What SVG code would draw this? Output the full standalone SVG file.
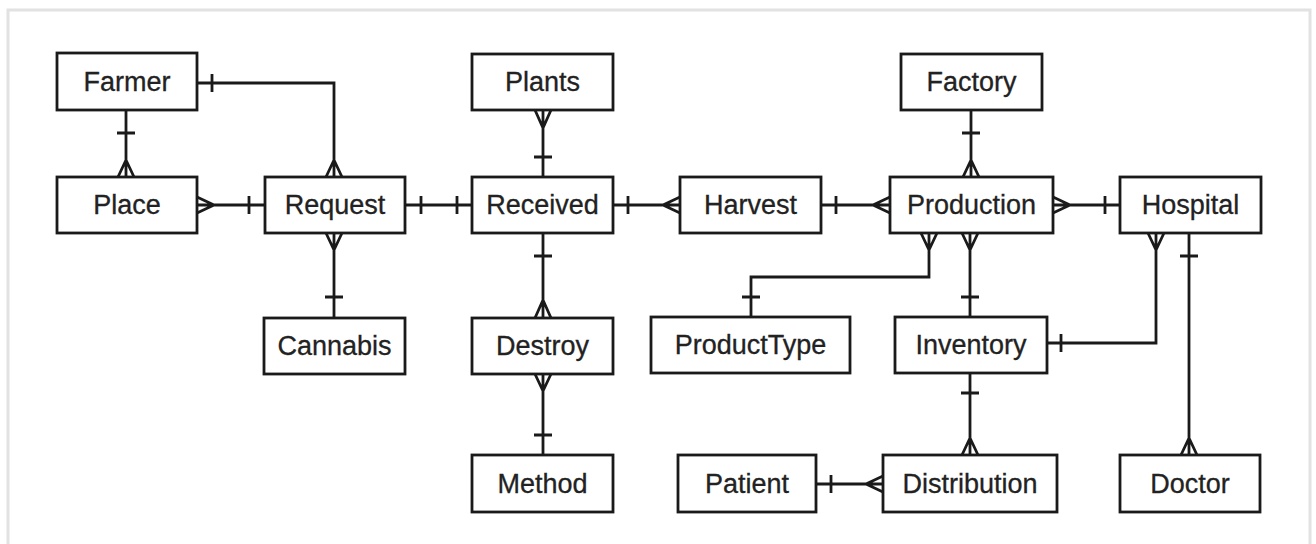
<svg xmlns="http://www.w3.org/2000/svg" width="1316" height="544" viewBox="0 0 1316 544">
  <style>
    .box rect { fill: #ffffff; stroke: #1a1a1a; stroke-width: 2.8; }
    .box text { font-family: "Liberation Sans", Arial, sans-serif; font-size: 27px; fill: #222222; text-anchor: middle; stroke: #222222; stroke-width: 0.3; }
    .conn { fill: none; stroke: #1a1a1a; stroke-width: 2.8; stroke-linejoin: miter; }
  </style>
  <rect x="8" y="10" width="1302" height="560" fill="#ffffff" stroke="#e2e2e2" stroke-width="3"/>

  <g id="connectors" class="conn">
    <!-- Farmer - Place -->
    <path d="M126,110 V177 M117,133 H135 M126,160 L118,177 M126,160 L134,177"/>
    <!-- Farmer - Request -->
    <path d="M197,83 H334 V177 M212,74 V92 M334,160 L326,177 M334,160 L342,177"/>
    <!-- Place - Request -->
    <path d="M197,205 H265 M214,205 L197,197 M214,205 L197,213 M249,196 V214"/>
    <!-- Request - Received -->
    <path d="M405,205 H472 M421,196 V214 M457,196 V214"/>
    <!-- Request - Cannabis -->
    <path d="M334,233 V318 M334,250 L326,233 M334,250 L342,233 M325,297 H343"/>
    <!-- Plants - Received -->
    <path d="M543,110 V177 M543,128 L535,110 M543,128 L551,110 M534,157 H552"/>
    <!-- Received - Harvest -->
    <path d="M613,205 H680 M628,196 V214 M663,205 L680,197 M663,205 L680,213"/>
    <!-- Received - Destroy -->
    <path d="M543,233 V318 M534,256 H552 M543,300 L535,318 M543,300 L551,318"/>
    <!-- Destroy - Method -->
    <path d="M543,374 V455 M543,391 L535,374 M543,391 L551,374 M534,435 H552"/>
    <!-- Harvest - Production -->
    <path d="M821,205 H890 M836,196 V214 M873,205 L890,197 M873,205 L890,213"/>
    <!-- Factory - Production -->
    <path d="M971,110 V177 M962,133 H980 M971,160 L963,177 M971,160 L979,177"/>
    <!-- Production - Hospital -->
    <path d="M1053,205 H1120 M1070,205 L1053,197 M1070,205 L1053,213 M1105,196 V214"/>
    <!-- Production - ProductType -->
    <path d="M929,233 V277 H751 V317 M929,250 L921,233 M929,250 L937,233 M742,297 H760"/>
    <!-- Production - Inventory -->
    <path d="M970,233 V317 M970,250 L962,233 M970,250 L978,233 M961,297 H979"/>
    <!-- Hospital - Inventory -->
    <path d="M1156,233 V343 H1047 M1156,250 L1148,233 M1156,250 L1164,233 M1061,334 V352"/>
    <!-- Hospital - Doctor -->
    <path d="M1189,233 V455 M1180,256 H1198 M1189,438 L1181,455 M1189,438 L1197,455"/>
    <!-- Inventory - Distribution -->
    <path d="M970,373 V455 M961,393 H979 M970,438 L962,455 M970,438 L978,455"/>
    <!-- Patient - Distribution -->
    <path d="M816,484 H883 M831,475 V493 M866,484 L883,476 M866,484 L883,492"/>
  </g>

  <g id="farmer" class="box"><rect x="57" y="53" width="140" height="57"/><text x="127" y="91">Farmer</text></g>
  <g id="place" class="box"><rect x="57" y="177" width="140" height="56"/><text x="127" y="214">Place</text></g>
  <g id="request" class="box"><rect x="265" y="177" width="140" height="56"/><text x="335" y="214">Request</text></g>
  <g id="cannabis" class="box"><rect x="264" y="318" width="141" height="56"/><text x="334.5" y="355">Cannabis</text></g>
  <g id="plants" class="box"><rect x="472" y="54" width="141" height="56"/><text x="542.5" y="91">Plants</text></g>
  <g id="received" class="box"><rect x="472" y="177" width="141" height="56"/><text x="542.5" y="214">Received</text></g>
  <g id="destroy" class="box"><rect x="472" y="318" width="141" height="56"/><text x="542.5" y="355">Destroy</text></g>
  <g id="method" class="box"><rect x="472" y="455" width="141" height="57"/><text x="542.5" y="493">Method</text></g>
  <g id="harvest" class="box"><rect x="680" y="177" width="141" height="56"/><text x="750.5" y="214">Harvest</text></g>
  <g id="producttype" class="box"><rect x="651" y="317" width="199" height="56"/><text x="750.5" y="354">ProductType</text></g>
  <g id="patient" class="box"><rect x="678" y="455" width="138" height="57"/><text x="747" y="493">Patient</text></g>
  <g id="factory" class="box"><rect x="901" y="54" width="141" height="56"/><text x="971.5" y="91">Factory</text></g>
  <g id="production" class="box"><rect x="890" y="177" width="163" height="56"/><text x="971.5" y="214">Production</text></g>
  <g id="inventory" class="box"><rect x="895" y="317" width="152" height="56"/><text x="971" y="354">Inventory</text></g>
  <g id="distribution" class="box"><rect x="883" y="455" width="174" height="57"/><text x="970" y="493">Distribution</text></g>
  <g id="hospital" class="box"><rect x="1120" y="177" width="141" height="56"/><text x="1190.5" y="214">Hospital</text></g>
  <g id="doctor" class="box"><rect x="1120" y="455" width="140" height="57"/><text x="1190" y="493">Doctor</text></g>
</svg>
